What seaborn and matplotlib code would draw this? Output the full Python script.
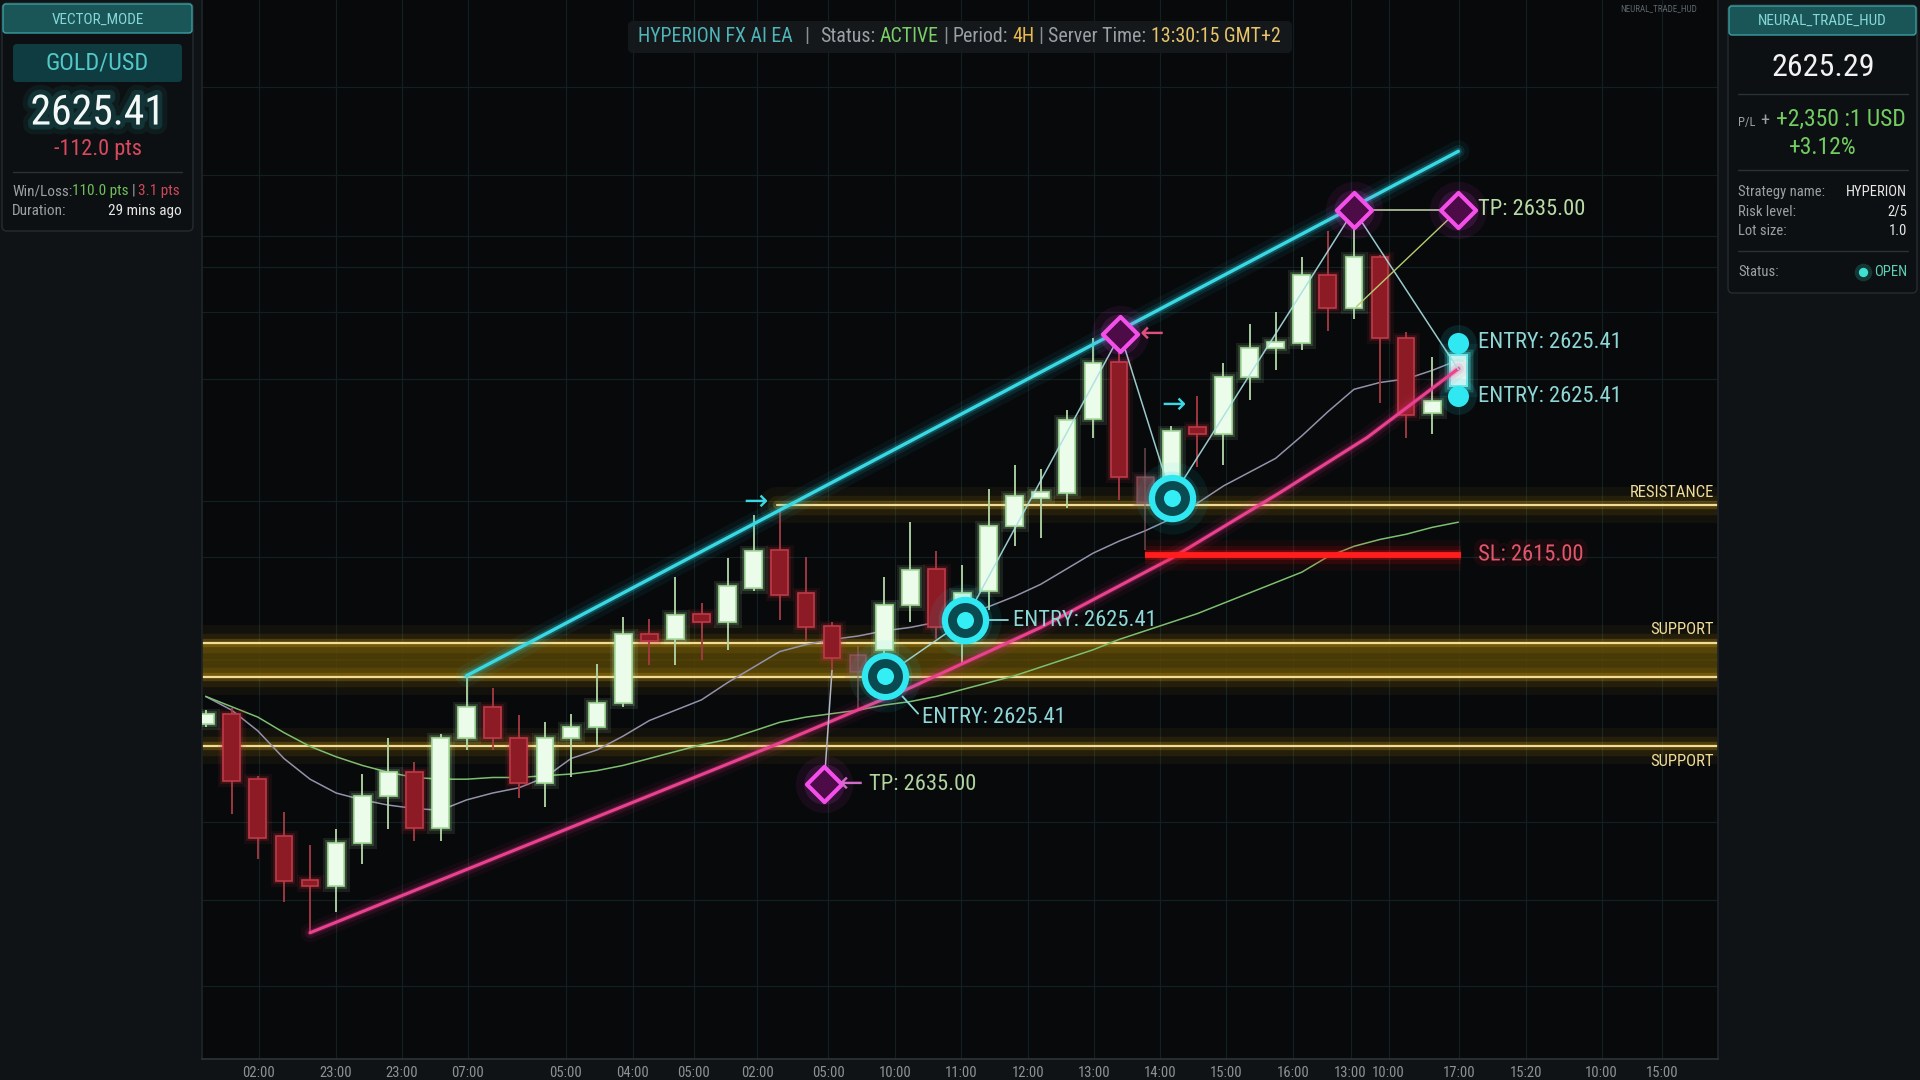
import numpy as np
import pandas as pd
import matplotlib
matplotlib.use("Agg")
import matplotlib.pyplot as plt
import seaborn as sns
from matplotlib import patheffects as pe
from matplotlib import font_manager
from matplotlib.patches import FancyBboxPatch

# ---------------- GOLD/USD 4H candles ----------------
opens = [2605.2, 2605.8, 2602.0, 2598.7, 2596.1, 2595.8, 2598.3, 2601.0, 2602.4, 2599.2,
         2604.4, 2606.2, 2604.4, 2601.8, 2604.4, 2605.0, 2606.4, 2610.4, 2610.1, 2611.6,
         2611.1, 2613.1, 2615.3, 2612.8, 2610.9, 2609.2, 2609.5, 2612.1, 2614.2, 2610.9,
         2612.9, 2616.7, 2618.3, 2618.6, 2622.9, 2626.2, 2619.5, 2619.5, 2622.4, 2622.0,
         2625.3, 2627.0, 2627.3, 2631.2, 2629.3, 2632.3, 2627.6, 2623.2, 2624.8]
highs = [2606.0, 2606.1, 2602.2, 2600.1, 2598.2, 2599.1, 2602.3, 2604.4, 2603.0, 2604.6,
         2607.9, 2607.3, 2605.7, 2605.3, 2605.8, 2608.7, 2611.4, 2611.3, 2613.7, 2612.2,
         2614.8, 2617.3, 2617.6, 2614.9, 2611.1, 2609.7, 2613.7, 2616.9, 2615.2, 2614.4,
         2618.8, 2620.2, 2620.0, 2623.4, 2627.6, 2627.8, 2621.2, 2622.5, 2624.2, 2626.1,
         2628.4, 2629.1, 2632.3, 2633.8, 2635.0, 2632.4, 2627.9, 2626.5, 2627.3]
lows = [2605.0, 2600.0, 2597.4, 2594.9, 2593.1, 2594.3, 2597.1, 2599.1, 2598.4, 2598.4,
        2603.7, 2603.7, 2600.9, 2600.4, 2602.1, 2603.9, 2606.2, 2608.6, 2608.6, 2608.9,
        2609.5, 2612.9, 2611.2, 2610.0, 2608.3, 2606.0, 2607.8, 2611.1, 2610.1, 2608.7,
        2611.8, 2615.5, 2616.0, 2617.7, 2621.8, 2618.2, 2615.3, 2618.5, 2620.1, 2620.2,
        2624.0, 2625.7, 2626.9, 2628.0, 2628.7, 2623.8, 2621.8, 2622.0, 2624.2]
closes = [2605.8, 2601.9, 2598.6, 2596.1, 2595.8, 2598.3, 2601.0, 2602.4, 2599.2, 2604.4,
          2606.2, 2604.4, 2601.8, 2604.4, 2605.0, 2606.4, 2610.4, 2610.0, 2611.5, 2611.1,
          2613.2, 2615.2, 2612.7, 2610.8, 2609.0, 2608.2, 2612.1, 2614.1, 2610.8, 2612.8,
          2616.7, 2618.4, 2618.6, 2622.8, 2626.1, 2619.5, 2618.0, 2622.2, 2622.0, 2625.3,
          2627.0, 2627.3, 2631.2, 2629.3, 2632.3, 2627.6, 2623.1, 2623.9, 2626.6]
faded_bars = [25, 36]

# moving averages
ma_fast = [2606.8, 2606.0, 2604.8, 2603.2, 2602.0, 2601.2, 2600.8, 2600.5, 2600.3, 2600.2,
           2600.8, 2601.2, 2601.5, 2602.1, 2603.2, 2603.7, 2604.5, 2605.4, 2606.0, 2606.6,
           2607.6, 2608.5, 2609.4, 2609.8, 2610.1, 2610.3, 2610.6, 2610.8, 2611.1, 2611.5,
           2612.0, 2612.6, 2613.3, 2614.2, 2615.1, 2615.8, 2616.4, 2617.1, 2618.0, 2619.0,
           2619.8, 2620.6, 2621.9, 2623.3, 2624.6, 2625.0, 2625.2, 2625.7, 2626.3]
ma_slow = [2606.8, 2606.2, 2605.6, 2604.7, 2603.9, 2603.3, 2602.8, 2602.4, 2602.1, 2602.0,
           2602.0, 2602.1, 2602.1, 2602.2, 2602.3, 2602.5, 2602.8, 2603.2, 2603.6, 2604.0,
           2604.3, 2604.8, 2605.3, 2605.6, 2605.8, 2606.0, 2606.3, 2606.5, 2606.8, 2607.2,
           2607.6, 2608.0, 2608.5, 2609.0, 2609.5, 2610.1, 2610.6, 2611.1, 2611.6, 2612.2,
           2612.8, 2613.4, 2614.0, 2614.9, 2615.5, 2615.9, 2616.2, 2616.6, 2616.9]

# time axis
time_labels = ["02:00", "23:00", "23:00", "07:00", "05:00", "04:00", "05:00", "02:00",
               "05:00", "10:00", "11:00", "12:00", "13:00", "14:00", "15:00", "16:00",
               "13:00", "10:00", "17:00", "15:20", "10:00", "15:00"]
time_ticks = [2.04, 5.0, 7.52, 10.05, 13.8, 16.37, 18.7, 21.13, 23.85, 26.42, 28.95,
              31.52, 34.04, 36.58, 39.1, 41.68, 43.87, 45.33, 48.02, 50.61, 53.49, 55.81]
grid_prices = [2642.1, 2637.0, 2633.5, 2631.7, 2629.1, 2625.2, 2618.1, 2614.9,
               2599.5, 2595.0, 2590.0]

# levels
resistance = 2617.9
resistance_from = 21.9
support_band = [2607.9, 2609.9]
support_low = 2603.9
stop_loss = 2615.00
sl_span = [36.0, 48.1]
take_profit = 2635.00
entry_price = 2625.41

# channel
upper_x = [10, 48]
upper_y = [2608.0, 2638.4]
lower_x = [4, 13, 22, 27, 32, 37, 41.15, 44.5, 48]
lower_y = [2593.1, 2598.6, 2604.1, 2607.3, 2610.8, 2614.8, 2618.6, 2621.8, 2625.8]

# trade signals
entry_x = [26.04, 29.09, 37.02]
entry_y = [2608.0, 2611.2, 2618.3]
tp_x = [23.7, 35.05, 44.0, 48.0]
tp_y = [2601.7, 2627.8, 2635.0, 2635.0]
pill_x = [48, 48]
pill_y = [2627.3, 2624.2]

# ---------------- style ----------------
sns.set_theme(style="dark")
installed = {f.name for f in font_manager.fontManager.ttflist}
base_font = next((f for f in ["Roboto Condensed", "Liberation Sans Narrow", "Roboto", "DejaVu Sans"]
                  if f in installed), "DejaVu Sans")
plt.rcParams["font.family"] = [base_font, "DejaVu Sans"]
plt.rcParams["axes.unicode_minus"] = False

W, H = 1920, 1080
fig = plt.figure(figsize=(W / 100, H / 100), dpi=100, facecolor="#101315")
ax = fig.add_axes([202 / W, 21 / H, (1718 - 202) / W, (H - 21) / H])
ax.set_facecolor("#07090b")


def glow(color, widths=(12, 7, 4), alphas=(0.05, 0.10, 0.22)):
    return [pe.Stroke(linewidth=w, foreground=color, alpha=a) for w, a in zip(widths, alphas)] + [pe.Normal()]


XMIN, XMAX = -0.14, 57.95
YMIN, YMAX = 2585.78, 2647.17

# support / resistance
ax.axhspan(support_band[0], support_band[1], color="#4c3d07", alpha=0.85, lw=0, zorder=1)
gold_glow = glow("#c99a12", widths=(26, 14, 6), alphas=(0.06, 0.10, 0.26))
for yv in support_band + [support_low]:
    ax.axhline(yv, color="#f2dc98", lw=1.6, zorder=1.5, path_effects=gold_glow)
ax.plot([resistance_from, XMAX], [resistance, resistance], color="#f2dc98", lw=1.6, zorder=1.5,
        path_effects=gold_glow)

# moving averages
x = np.arange(len(opens))
ma = pd.DataFrame({"bar": x, "fast": ma_fast, "slow": ma_slow})
sns.lineplot(data=ma, x="bar", y="fast", ax=ax, color="#9491ab", lw=1.1, zorder=2.5)
sns.lineplot(data=ma, x="bar", y="slow", ax=ax, color="#7dbf70", lw=1.1, zorder=2.5)

# candles
o, h, l, c = map(np.asarray, (opens, highs, lows, closes))
bull = c >= o
faded = np.isin(x, faded_bars)
body_lo = np.minimum(o, c)
body_h = np.maximum(np.abs(c - o), 0.35)
groups = [
    (bull & ~faded, "#ecfcea", "#a6dc9c", "#b4d8a8", "#b8f2ae", 1.0),
    (~bull & ~faded, "#8c1b25", "#bd3b47", "#a83a44", "#c0303c", 1.0),
    (faded, "#8a4a52", "#a06068", "#9a6a70", "#8a4a52", 0.55),
]
for m, face, edge, wick, gl, a in groups:
    ax.vlines(x[m], l[m], h[m], color=wick, lw=1.3, zorder=4, alpha=a)
    ax.bar(x[m], body_h[m], bottom=body_lo[m], width=0.64, color=face, edgecolor=edge,
           linewidth=1.2, zorder=4.2, alpha=a,
           path_effects=glow(gl, widths=(8, 4), alphas=(0.10, 0.2)))
# the live bar carries a cyan halo
last = len(opens) - 1
ax.bar([last], [body_h[last]], bottom=[body_lo[last]], width=0.64, color="#dff7f2",
       edgecolor="#7fe6e6", linewidth=1.4, zorder=4.3,
       path_effects=glow("#2ee0ea", widths=(16, 9, 5), alphas=(0.08, 0.15, 0.3)))

# channel lines
ax.plot(upper_x, upper_y, color="#3ad8e2", lw=2.4, zorder=4.6, solid_capstyle="round",
        path_effects=glow("#22c8d8", widths=(16, 9, 5), alphas=(0.06, 0.12, 0.25)))
ax.plot(lower_x, lower_y, color="#ea4290", lw=2.2, zorder=4.6, solid_capstyle="round",
        solid_joinstyle="round",
        path_effects=glow("#e0307e", widths=(14, 8, 4), alphas=(0.06, 0.12, 0.25)))

# stop loss
ax.plot(sl_span, [stop_loss, stop_loss], color="#ff1d1d", lw=4.2, zorder=4.7, solid_capstyle="butt",
        path_effects=glow("#ff1010", widths=(22, 13, 7), alphas=(0.06, 0.12, 0.25)))

# trade path
path_c = "#a9dfe2"
ax.plot([tp_x[0], 24.0], [tp_y[0], lows[24]], color="#b6b6c6", lw=1.1, zorder=5)
ax.plot([entry_x[0], entry_x[1], tp_x[1], entry_x[2], tp_x[2], pill_x[0]],
        [entry_y[0], entry_y[1], tp_y[1], entry_y[2], tp_y[2], np.mean(pill_y)],
        color=path_c, lw=1.1, zorder=5, alpha=0.9)
ax.plot([tp_x[2], tp_x[3]], [tp_y[2], tp_y[3]], color="#c8d8b0", lw=1.1, zorder=5)
ax.plot([tp_x[3], 44.1], [tp_y[3], 2629.4], color="#b8cc70", lw=1.0, zorder=5)
# label leaders
ax.plot([entry_x[1] + 0.55, 30.75], [entry_y[1], entry_y[1]], color="#8fd8d8", lw=1.3, zorder=5)
ax.plot([26.7, 27.3], [2606.8, 2605.8], color="#8fd8d8", lw=1.3, zorder=5)

# entry rings
ax.scatter(entry_x, entry_y, s=2700, color="#20d8e8", alpha=0.08, lw=0, zorder=6)
ax.scatter(entry_x, entry_y, s=1500, color="#20d8e8", alpha=0.14, lw=0, zorder=6)
ax.scatter(entry_x, entry_y, s=880, facecolor="#0a4b52", edgecolor="#30e8f2", linewidth=4.5, zorder=6.2)
ax.scatter(entry_x, entry_y, s=150, color="#34eef6", lw=0, zorder=6.4)
# live entry dots
ax.scatter(pill_x, pill_y, s=700, color="#20d8e8", alpha=0.12, lw=0, zorder=6)
ax.scatter(pill_x, pill_y, s=230, color="#30e8f2", lw=0, zorder=6.4)
# take-profit diamonds
ax.scatter(tp_x, tp_y, s=1700, color="#ff40f0", alpha=0.07, lw=0, zorder=6)
ax.scatter(tp_x, tp_y, s=850, color="#ff40f0", alpha=0.13, lw=0, zorder=6)
ax.scatter(tp_x, tp_y, s=320, marker="D", facecolor="#4d0c48", edgecolor="#f54fea", linewidth=3, zorder=6.3)

# chart labels
lab = dict(va="center", ha="left", size=16.2, zorder=8)
ax.text(48.76, take_profit, f"TP: {take_profit:.2f}", color="#b9dca6", **lab)
ax.text(48.76, pill_y[0], f"ENTRY: {entry_price:.2f}", color="#8fd6d6", **lab)
ax.text(48.76, pill_y[1], f"ENTRY: {entry_price:.2f}", color="#8fd6d6", **lab)
ax.text(48.76, stop_loss, f"SL: {stop_loss:.2f}", color="#e0566a", **lab,
        path_effects=[pe.Stroke(linewidth=8, foreground="#ff2030", alpha=0.08), pe.Normal()])
ax.text(30.92, entry_y[1], f"ENTRY: {entry_price:.2f}", color="#8fd6d6", **lab)
ax.text(27.45, 2605.6, f"ENTRY: {entry_price:.2f}", color="#8fd6d6", **lab)
ax.text(25.4, tp_y[0], f"TP: {take_profit:.2f}", color="#b0d4a0", **lab)
arr = dict(va="center", ha="center", size=21, family="DejaVu Sans", zorder=8)
ax.text(24.7, tp_y[0], "\u2190", color="#d46ac8", **arr)
ax.text(21.07, 2618.1, "\u2192", color="#3ad8e2", **arr)
ax.text(36.27, 2627.8, "\u2190", color="#e0507e", **arr)
ax.text(37.07, 2623.7, "\u2192", color="#3ad8e2", **arr)
lvl = dict(va="center", ha="right", size=12, color="#f0dc98", zorder=8)
ax.text(57.8, 2618.6, "RESISTANCE", **lvl)
ax.text(57.8, 2610.7, "SUPPORT", **lvl)
ax.text(57.8, 2603.0, "SUPPORT", **lvl)

# axes cosmetics
ax.set_xlim(XMIN, XMAX)
ax.set_ylim(YMIN, YMAX)
ax.set_xticks(time_ticks)
ax.set_xticklabels(time_labels)
ax.set_yticks(grid_prices)
ax.set_xlabel("")
ax.set_ylabel("")
ax.tick_params(axis="y", left=False, labelleft=False)
ax.tick_params(axis="x", length=0, pad=5, labelsize=10.5, colors="#8d9297")
ax.grid(True, color="#132020", lw=0.9)
ax.spines["top"].set_visible(False)
for side in ["left", "right"]:
    ax.spines[side].set_color("#1d2427")
ax.spines["bottom"].set_color("#2b3235")

# ---------------- HUD overlay (pixel coordinates) ----------------
hud = fig.add_axes([0, 0, 1, 1], zorder=5)
hud.set_xlim(0, W)
hud.set_ylim(H, 0)
hud.axis("off")
hud.patch.set_alpha(0)
renderer = fig.canvas.get_renderer()


def box(x0, y0, x1, y1, fc, ec="none", lw=1.0, r=4, alpha=1.0, z=1):
    hud.add_patch(FancyBboxPatch((x0, y0), x1 - x0, y1 - y0,
                                 boxstyle=f"round,pad=0,rounding_size={r}",
                                 fc=fc, ec=ec, lw=lw, alpha=alpha, zorder=z))


def rule(x0, x1, y, color="#293236"):
    hud.plot([x0, x1], [y, y], color=color, lw=1, zorder=3)


def rich(x, y, parts, size, ha="left", va="center", fit=None):
    """Lay out differently coloured pieces of text one after another."""
    objs, gaps = [], []
    for part in parts:
        s, col, g = part[:3]
        sz = part[3] if len(part) > 3 else size
        objs.append(hud.text(0, y, s, color=col, size=sz, va=va, ha="left", zorder=10))
        gaps.append(g)
    widths = [t.get_window_extent(renderer).width for t in objs]
    if fit is not None:
        k = (fit - sum(gaps)) / sum(widths)
        for t in objs:
            t.set_fontsize(t.get_fontsize() * k)
        widths = [t.get_window_extent(renderer).width for t in objs]
    total = sum(widths) + sum(gaps)
    cur = x if ha == "left" else (x - total / 2 if ha == "center" else x - total)
    for t, w, g in zip(objs, widths, gaps):
        t.set_x(cur)
        cur += w + g
    return objs


gray = "#9aa0a4"
teal_hdr = "#86d8d8"

# header strip
box(628, 21, 1292, 53, fc="#15191c", r=5, alpha=0.95, z=2)
rich(638, 37, [("HYPERION FX AI EA", "#4fb5b8", 11), ("|", "#8a8f93", 11), ("Status:", gray, 5),
               ("ACTIVE", "#7ccf68", 4), ("|", "#8a8f93", 4), ("Period:", gray, 5),
               ("4H", "#e9b949", 4), ("|", "#8a8f93", 4), ("Server Time:", gray, 5),
               ("13:30:15 GMT+2", "#e8c46a", 0)], 14, fit=645)
hud.text(1659, 9, "NEURAL_TRADE_HUD", color="#5f6569", size=6.5, ha="center", va="center", zorder=10)

# left panel
box(2, 3, 193, 231, fc="#0d1012", ec="#252c2f", r=5)
box(3, 4, 192, 33, fc="#1a5558", ec="#3a9ea2", r=3, z=2)
hud.text(97.5, 20, "VECTOR_MODE", color=teal_hdr, size=11, ha="center", va="center", zorder=10)
box(13, 44, 182, 82, fc="#0f3c40", r=4, z=2)
hud.text(97.5, 63, "GOLD/USD", color="#52c8c8", size=17.5, ha="center", va="center", zorder=10)
hud.text(97.5, 113, "2625.41", color="#f4f8f6", size=30, ha="center", va="center", zorder=10,
         path_effects=[pe.Stroke(linewidth=14, foreground="#1aa0a0", alpha=0.09),
                       pe.Stroke(linewidth=7, foreground="#2ac0c0", alpha=0.15), pe.Normal()])
hud.text(97.5, 150, "-112.0 pts", color="#d94a60", size=16, ha="center", va="center", zorder=10)
rule(13, 182, 172)
rich(12, 191, [("Win/Loss:", gray, 0), ("110.0 pts", "#6fbf5a", 3), ("|", gray, 3),
               ("3.1 pts", "#d0485a", 0)], 11)
hud.text(12, 211, "Duration:", color=gray, size=11, ha="left", va="center", zorder=10)
hud.text(182, 211, "29 mins ago", color="#e6e6e6", size=11, ha="right", va="center", zorder=10)

# right panel
box(1728, 5, 1917, 293, fc="#0d1012", ec="#252c2f", r=5)
box(1729, 6, 1916, 35, fc="#1a5558", ec="#3a9ea2", r=3, z=2)
hud.text(1822, 21, "NEURAL_TRADE_HUD", color=teal_hdr, size=11, ha="center", va="center", zorder=10)
hud.text(1823, 68, "2625.29", color="#f2f2f2", size=23, ha="center", va="center", zorder=10)
rule(1738, 1908, 94)
rich(1738, 126, [("P/L", gray, 5, 9), ("+", gray, 6, 13), ("+2,350 :1 USD", "#72cc62", 0, 17)],
     9, va="baseline")
hud.text(1823, 147, "+3.12%", color="#72cc62", size=17, ha="center", va="center", zorder=10)
rule(1738, 1908, 170)
rows = [("Strategy name:", "HYPERION", 192), ("Risk level:", "2/5", 212), ("Lot size:", "1.0", 231)]
for k, v, yy in rows:
    hud.text(1738, yy, k, color=gray, size=10.5, ha="left", va="center", zorder=10)
    hud.text(1907, yy, v, color="#e6e6e6", size=10.5, ha="right", va="center", zorder=10)
rule(1738, 1908, 251)
hud.text(1738, 272, "Status:", color=gray, size=10.5, ha="left", va="center", zorder=10)
hud.scatter([1863], [272], s=160, color="#35d8c8", alpha=0.2, lw=0, zorder=9)
hud.scatter([1863], [272], s=45, color="#40e0d0", lw=0, zorder=10)
hud.text(1907, 272, "OPEN", color="#5fd0b8", size=10.5, ha="right", va="center", zorder=10)

fig.savefig("out.png", dpi=100, facecolor=fig.get_facecolor())
